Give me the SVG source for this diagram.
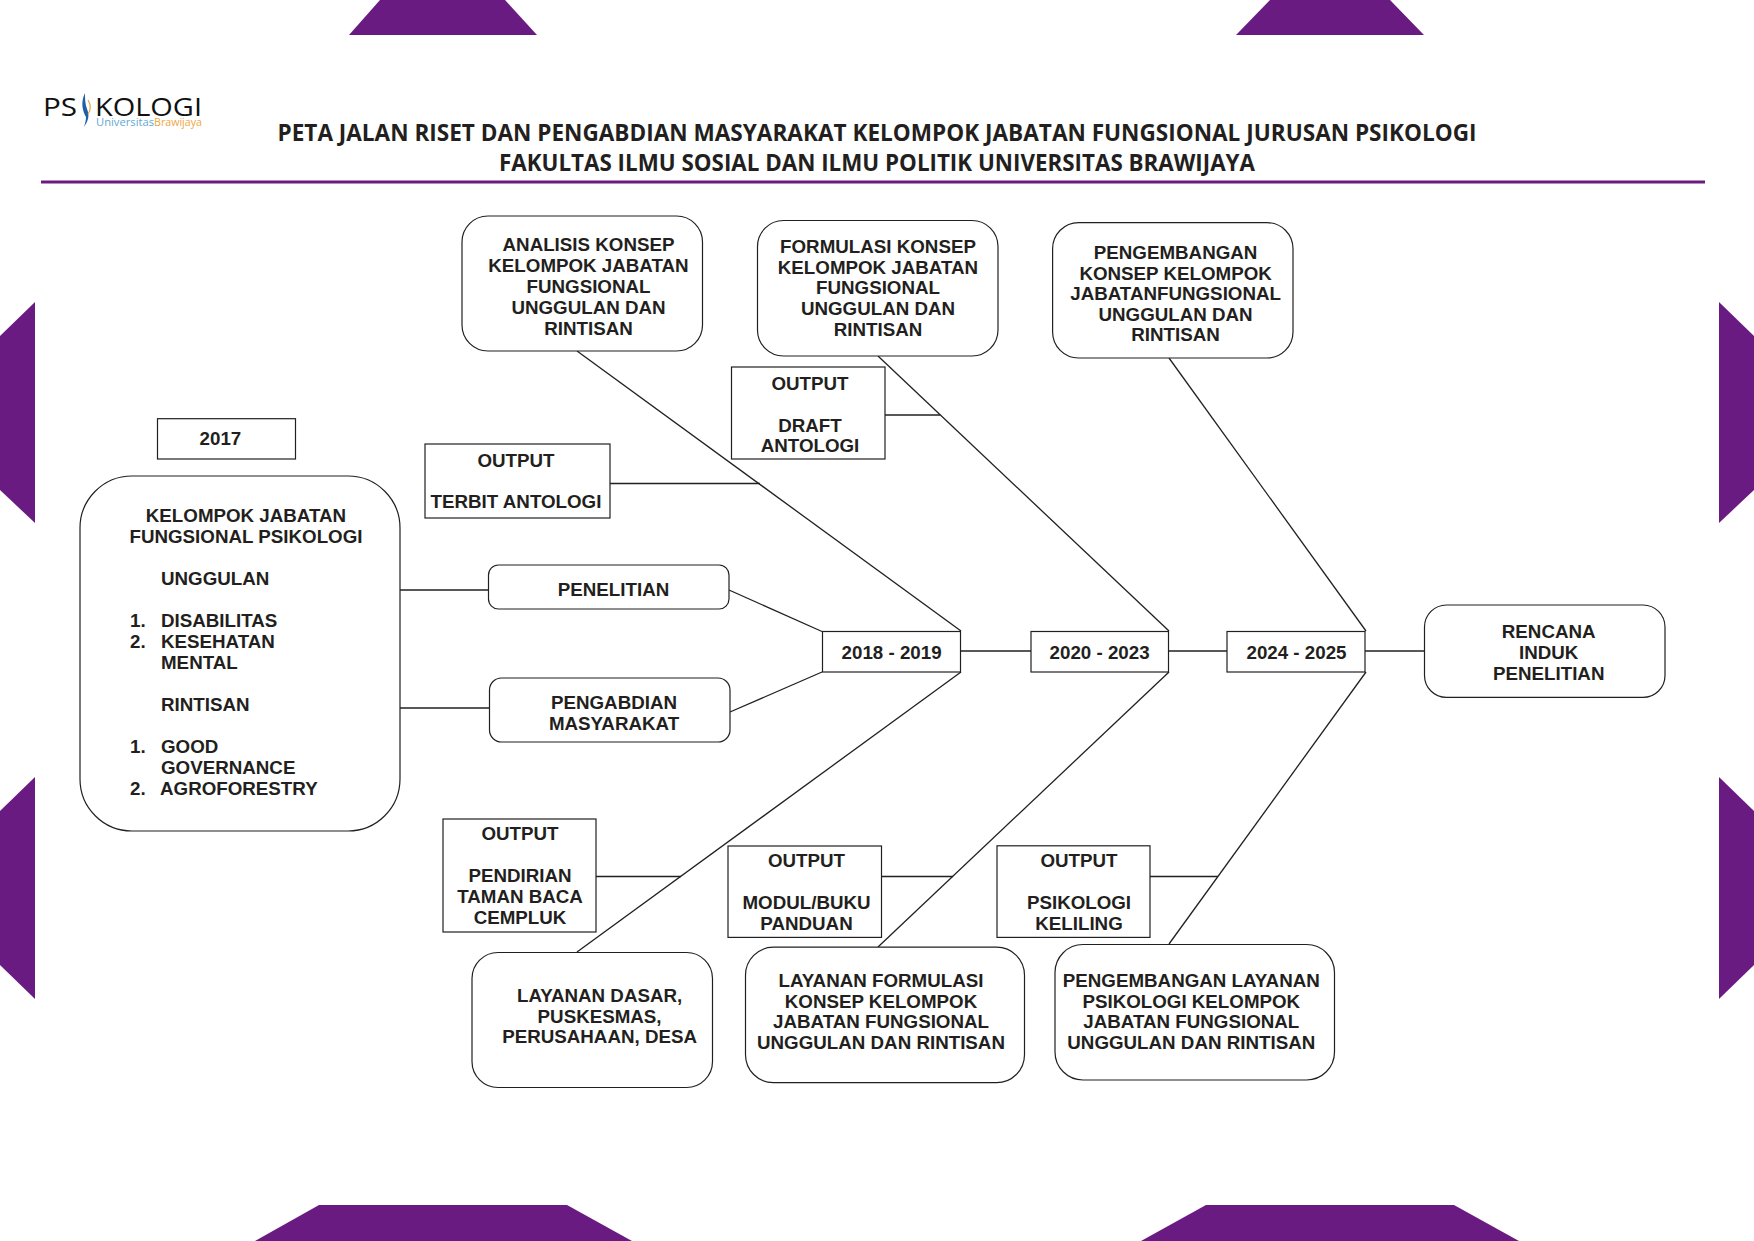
<svg xmlns="http://www.w3.org/2000/svg" width="1754" height="1241" viewBox="0 0 1754 1241">
<style>
.deco{fill:#6a1b82}
.box{fill:#fff;stroke:#231f20;stroke-width:1.2}
.lines line{stroke:#231f20;stroke-width:1.3;fill:none}
text{font-family:"Liberation Sans",Arial,sans-serif;font-weight:700;font-size:18.75px;fill:#231f20}
.c{text-anchor:middle}
text.title{font-family:"Open Sans","Noto Sans",sans-serif;font-size:22.5px;text-anchor:middle;fill:#231f20}
text.logo{font-family:"Open Sans","Noto Sans",sans-serif;font-weight:400;font-size:25px;fill:#111}
text.uni{font-family:"Open Sans","Noto Sans",sans-serif;font-weight:400;font-size:10px;fill:#5fa8d8}
text.bra{font-family:"Open Sans","Noto Sans",sans-serif;font-weight:400;font-size:10px;fill:#f0a540}
</style>
<rect width="1754" height="1241" fill="#fff"/>
<g id="decor">
<polygon class="deco" points="380,0 505,0 537,35 349,35"/>
<polygon class="deco" points="1270,0 1390,0 1424,35 1236,35"/>
<polygon class="deco" points="319,1205 567,1205 632,1241 255,1241"/>
<polygon class="deco" points="1206,1205 1454,1205 1519,1241 1141,1241"/>
<polygon class="deco" points="0,336 35,302 35,523 0,490"/>
<polygon class="deco" points="0,811 35,777 35,999 0,965"/>
<polygon class="deco" points="1754,336 1719,302 1719,523 1754,490"/>
<polygon class="deco" points="1754,811 1719,777 1719,999 1754,965"/>
<rect class="deco" x="41" y="180.5" width="1664" height="3"/>
</g>
<g id="logo">
<text class="logo" x="43" y="116" textLength="34" lengthAdjust="spacingAndGlyphs">PS</text>
<path d="M85 93C80 103 83 112 86 117C86 120 85 124 84 127C88 121 90 116 87 109C85 104 85 98 85 93Z" fill="#1f5fa8"/>
<path d="M88 100C91 105 91 110 88 114" fill="none" stroke="#e8a33d" stroke-width="1.2"/>
<text class="logo" x="95" y="116" textLength="107" lengthAdjust="spacingAndGlyphs">KOLOGI</text>
<text class="uni" x="96" y="125.5" textLength="58" lengthAdjust="spacingAndGlyphs">Universitas</text>
<text class="bra" x="154" y="125.5" textLength="48" lengthAdjust="spacingAndGlyphs">Brawijaya</text>
</g>
<g id="title">
<text class="title" x="877" y="141" textLength="1199" lengthAdjust="spacingAndGlyphs">PETA JALAN RISET DAN PENGABDIAN MASYARAKAT KELOMPOK JABATAN FUNGSIONAL JURUSAN PSIKOLOGI</text>
<text class="title" x="877" y="171" textLength="756" lengthAdjust="spacingAndGlyphs">FAKULTAS ILMU SOSIAL DAN ILMU POLITIK UNIVERSITAS BRAWIJAYA</text>
</g>
<g id="connectors" class="lines">
<line x1="577" y1="351" x2="961" y2="631"/>
<line x1="878" y1="356" x2="1169" y2="631"/>
<line x1="1169" y1="358" x2="1366" y2="631"/>
<line x1="961" y1="672" x2="577" y2="952"/>
<line x1="1169" y1="672" x2="878" y2="947"/>
<line x1="1366" y1="672" x2="1169" y2="944"/>
<line x1="610" y1="483.5" x2="760" y2="483.5"/>
<line x1="885" y1="415" x2="940" y2="415"/>
<line x1="400" y1="590" x2="488.5" y2="590"/>
<line x1="400" y1="708" x2="489.5" y2="708"/>
<line x1="729" y1="590" x2="822" y2="631.5"/>
<line x1="730" y1="712" x2="822" y2="672"/>
<line x1="960" y1="651" x2="1031" y2="651"/>
<line x1="1168.5" y1="651" x2="1227" y2="651"/>
<line x1="1365" y1="651" x2="1424.5" y2="651"/>
<line x1="596" y1="876.5" x2="681" y2="876.5"/>
<line x1="881.5" y1="876.5" x2="953" y2="876.5"/>
<line x1="1150" y1="876.5" x2="1218" y2="876.5"/>
</g>
<g id="node-analisis"><rect class="box" x="462" y="216" width="240.5" height="135" rx="26"/>
<text class="c" x="588.5" y="250.5">ANALISIS KONSEP</text><text class="c" x="588.5" y="271.6">KELOMPOK JABATAN</text><text class="c" x="588.5" y="292.7">FUNGSIONAL</text><text class="c" x="588.5" y="313.8">UNGGULAN DAN</text><text class="c" x="588.5" y="334.9">RINTISAN</text></g>
<g id="node-formulasi"><rect class="box" x="757.5" y="220.5" width="240.5" height="135.5" rx="26"/>
<text class="c" x="878" y="252.6">FORMULASI KONSEP</text><text class="c" x="878" y="273.5">KELOMPOK JABATAN</text><text class="c" x="878" y="294.4">FUNGSIONAL</text><text class="c" x="878" y="315.3">UNGGULAN DAN</text><text class="c" x="878" y="336.4">RINTISAN</text></g>
<g id="node-pengembangan"><rect class="box" x="1052.6" y="222.6" width="240.4" height="135.4" rx="26"/>
<text class="c" x="1175.6" y="259">PENGEMBANGAN</text><text class="c" x="1175.6" y="279.6">KONSEP KELOMPOK</text><text class="c" x="1175.6" y="300.4">JABATANFUNGSIONAL</text><text class="c" x="1175.6" y="320.9">UNGGULAN DAN</text><text class="c" x="1175.6" y="341.4">RINTISAN</text></g>
<g id="node-draft"><rect class="box" x="731.5" y="367" width="153.5" height="92"/>
<text class="c" x="810" y="390">OUTPUT</text><text class="c" x="810" y="431.6">DRAFT</text><text class="c" x="810" y="452.4">ANTOLOGI</text></g>
<g id="node-terbit"><rect class="box" x="425" y="444" width="185" height="74"/>
<text class="c" x="516" y="466.7">OUTPUT</text><text class="c" x="516" y="508">TERBIT ANTOLOGI</text></g>
<g id="node-2017"><rect class="box" x="157.5" y="418.7" width="138" height="40.3"/>
<text class="c" x="220.4" y="445">2017</text></g>
<g id="node-kelompok"><rect class="box" x="80" y="476" width="320" height="355" rx="52"/>
<text class="c" x="246" y="522">KELOMPOK JABATAN</text><text class="c" x="246" y="543">FUNGSIONAL PSIKOLOGI</text>
<text x="161" y="585">UNGGULAN</text>
<text x="130" y="627">1.</text><text x="161" y="627">DISABILITAS</text>
<text x="130" y="648">2.</text><text x="161" y="648">KESEHATAN</text>
<text x="161" y="669">MENTAL</text>
<text x="161" y="710.7">RINTISAN</text>
<text x="130" y="753">1.</text><text x="161" y="753">GOOD</text>
<text x="161" y="774">GOVERNANCE</text>
<text x="130" y="794.7">2.</text><text x="160" y="794.7">AGROFORESTRY</text></g>
<g id="node-penelitian"><rect class="box" x="488.5" y="565" width="240.5" height="44" rx="10"/>
<text class="c" x="613.5" y="596">PENELITIAN</text></g>
<g id="node-pengabdian"><rect class="box" x="489.5" y="678" width="240.5" height="64" rx="12"/>
<text class="c" x="614" y="709">PENGABDIAN</text><text class="c" x="614" y="730">MASYARAKAT</text></g>
<g id="node-2018"><rect class="box" x="822.5" y="631.5" width="138" height="40.5"/>
<text class="c" x="891.6" y="659">2018 - 2019</text></g>
<g id="node-2020"><rect class="box" x="1031" y="631.5" width="137.5" height="40.5"/>
<text class="c" x="1099.6" y="659">2020 - 2023</text></g>
<g id="node-2024"><rect class="box" x="1227" y="631.5" width="138" height="40.5"/>
<text class="c" x="1296.5" y="659">2024 - 2025</text></g>
<g id="node-rencana"><rect class="box" x="1424.5" y="605" width="240.5" height="92.4" rx="22"/>
<text class="c" x="1548.7" y="637.5">RENCANA</text><text class="c" x="1548.7" y="658.9">INDUK</text><text class="c" x="1548.7" y="680">PENELITIAN</text></g>
<g id="node-pendirian"><rect class="box" x="443" y="819" width="153" height="113"/>
<text class="c" x="520" y="840">OUTPUT</text><text class="c" x="520" y="882">PENDIRIAN</text><text class="c" x="520" y="903">TAMAN BACA</text><text class="c" x="520" y="924">CEMPLUK</text></g>
<g id="node-modul"><rect class="box" x="728" y="846" width="153.5" height="91.4"/>
<text class="c" x="806.5" y="866.7">OUTPUT</text><text class="c" x="806.5" y="908.5">MODUL/BUKU</text><text class="c" x="806.5" y="929.8">PANDUAN</text></g>
<g id="node-keliling"><rect class="box" x="997" y="845.8" width="153" height="91.6"/>
<text class="c" x="1079" y="866.5">OUTPUT</text><text class="c" x="1079" y="908.5">PSIKOLOGI</text><text class="c" x="1079" y="929.5">KELILING</text></g>
<g id="node-dasar"><rect class="box" x="472" y="952.5" width="240.5" height="135" rx="26"/>
<text class="c" x="599.6" y="1001.8">LAYANAN DASAR,</text><text class="c" x="599.6" y="1022.5">PUSKESMAS,</text><text class="c" x="599.6" y="1043.3">PERUSAHAAN, DESA</text></g>
<g id="node-layanan-formulasi"><rect class="box" x="745.5" y="947.2" width="279" height="135.5" rx="28"/>
<text class="c" x="881" y="986.8">LAYANAN FORMULASI</text><text class="c" x="881" y="1007.6">KONSEP KELOMPOK</text><text class="c" x="881" y="1028.3">JABATAN FUNGSIONAL</text><text class="c" x="881" y="1049.2">UNGGULAN DAN RINTISAN</text></g>
<g id="node-pengembangan-layanan"><rect class="box" x="1055" y="944.5" width="279.5" height="135.5" rx="28"/>
<text class="c" x="1191.3" y="987">PENGEMBANGAN LAYANAN</text><text class="c" x="1191.3" y="1007.6">PSIKOLOGI KELOMPOK</text><text class="c" x="1191.3" y="1028.4">JABATAN FUNGSIONAL</text><text class="c" x="1191.3" y="1048.8">UNGGULAN DAN RINTISAN</text></g>
</svg>
